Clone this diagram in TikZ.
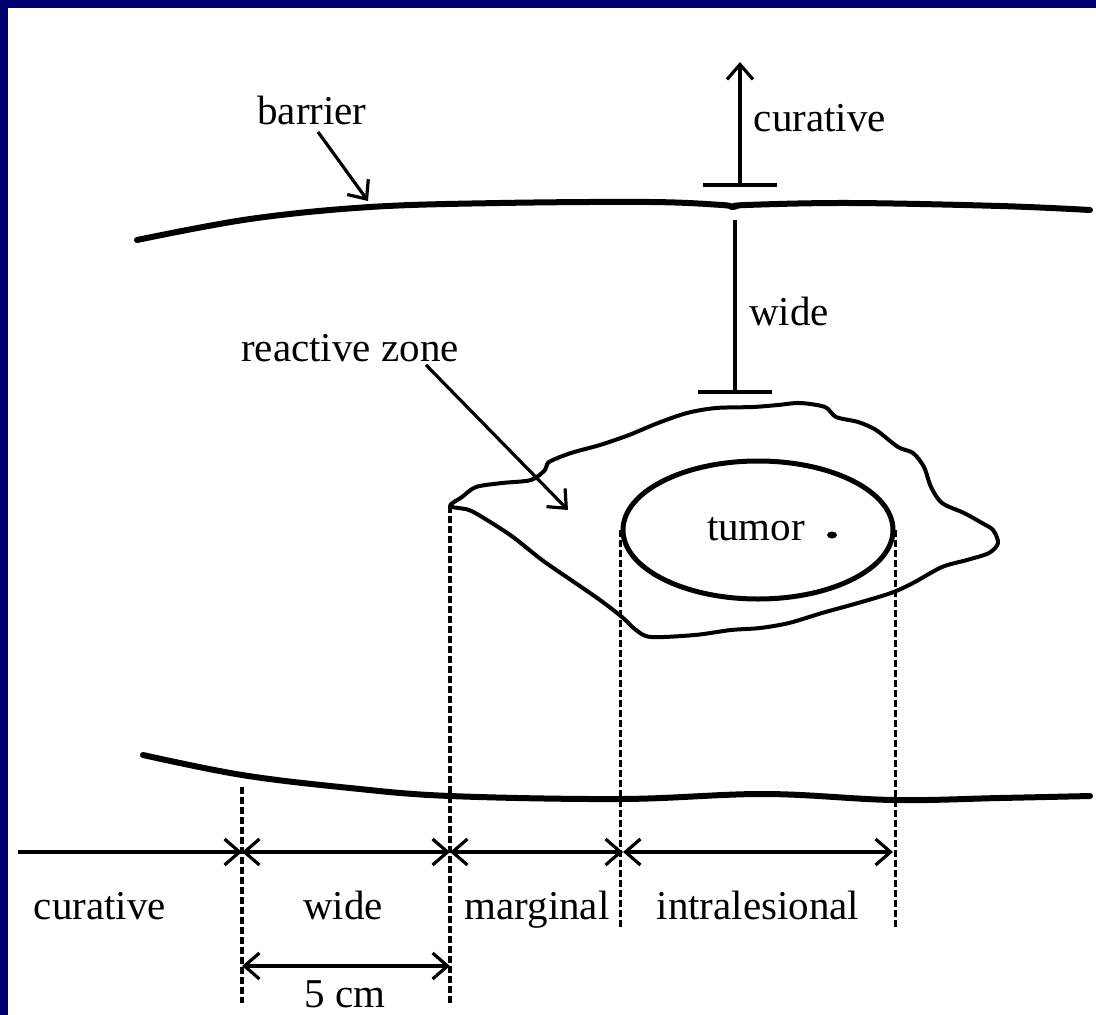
\documentclass[tikz,border=0pt]{standalone}
\usepackage{fontspec}
\setmainfont{Liberation Serif}
\usetikzlibrary{calc}
\usetikzlibrary{shapes,arrows.meta}
\definecolor{slideblue}{RGB}{0,0,112}
\tikzset{
  barrierline/.style={line width=6pt,line cap=round},
  guide/.style={line width=3.2pt,dash pattern=on 7pt off 3pt},
  dimline/.style={line width=3.2pt},
  bar/.style={line width=3.2pt},
  txt/.style={anchor=base},
}

\begin{document}
\begin{tikzpicture}[x=1pt,y=-1pt,>={Straight Barb[length=15pt,width=26pt,line width=3.2pt]},font=\fontsize{41}{48}\selectfont]
    \useasboundingbox (0,0) rectangle (1096,1015);
    \fill[slideblue] (0,0) rectangle (1096,1015);
    \fill[white] (8,8) rectangle (1096,1015);
    % barriers
    \draw[barrierline] plot[smooth,tension=0.6] coordinates {(137,240) (250,219) (370,207) (500,203) (650,202) (722,205) (733,207) (746,205) (850,203) (1000,206) (1090,210)};
    \draw[barrierline] plot[smooth,tension=0.6] coordinates {(143,755) (242,775) (350,788) (450,796) (622,799) (765,794) (893,800) (1000,798) (1090,796)};
    % reactive zone
    \draw[line width=4pt,line join=round] plot[smooth cycle,tension=0.5] coordinates {(450,506) (462,497) (476,487) (502,483) (531,480) (545,470) (549,462) (571,453) (600,445) (629,435) (658,423) (687,413) (716,408) (753,407) (778,405) (800,403) (825,407) (836,417) (858,422) (876,430) (898,447) (913,453) (924,467) (931,487) (942,503) (964,513) (982,523) (993,530) (998,543) (989,553) (967,560) (942,567) (913,583) (891,593) (858,603) (822,613) (789,623) (760,628) (731,630) (695,635) (651,637) (636,630) (622,617) (600,600) (571,580) (542,560) (513,537) (487,520) (469,510)};
    \node[draw,ellipse,line width=5pt,minimum width=270pt,minimum height=138pt,inner sep=0pt] (tumor) at (758,530) {};
    \node[txt] (tumorlbl) at (756,540) {tumor};
    \fill (832,535) ellipse [x radius=5,y radius=3.5];

    \coordinate (CurBase) at (740,185);
    \coordinate (CurTip) at (740,62);
    \coordinate (WideTop) at (735,220);
    \coordinate (WideBot) at (735,392);
    \coordinate (BarrierHit) at (368,201);
    \coordinate (ZoneHit) at (568,510);
    \draw[bar,->] (CurBase)--(CurTip);
    \draw[bar] ($(CurBase)+(-37,0)$)--($(CurBase)+(37,0)$);
    \draw[bar] (WideTop)--(WideBot);
    \draw[bar] ($(WideBot)+(-37,0)$)--($(WideBot)+(37,0)$);
    \node[txt] (curtop) at (820,131) {curative};
    \node[txt] (widetop) at (789,325) {wide};
    \node[txt] (barrier) at (312,124) {barrier};
    \node[txt] (reactive) at (350,361) {reactive zone};
    \draw[bar,->] ($(barrier.south)+(6,4)$)--(BarrierHit);
    \draw[bar,->] ($(reactive.south)+(76,0)$)--(ZoneHit);

    % margins
    \coordinate (Lcur) at (18,852);
    \coordinate (Dwide) at (242,852);
    \coordinate (Dmarg) at (450,852);
    \coordinate (Dintra) at (623,852);
    \coordinate (Dend) at (893,852);
    \coordinate (IntraBot) at (0,928);
    \draw[guide] (242,787)--(242,1003);
    \draw[guide] (450,506)--(450,1003);
    \draw[guide] (tumor.west)--(tumor.west |- IntraBot);
    \draw[guide] (tumor.east)--(tumor.east |- IntraBot);
    \draw[dimline,->] (Lcur)--(Dwide);
    \draw[dimline,<->] (Dwide)--(Dmarg);
    \draw[dimline,<->] (Dmarg)--(Dintra);
    \draw[dimline,<->] (Dintra)--(Dend);
    \node[txt] (curbot) at (100,919) {curative};
    \node[txt] (widebot) at (343,919) {wide};
    \node[txt] (marg) at (537,919) {marginal};
    \node[txt] (intra) at (758,919) {intralesional};
    \coordinate (FiveL) at (242,966);
    \coordinate (FiveR) at (450,966);
    \draw[dimline,<->] (FiveL)--(FiveR);
    \node[txt] (five) at (345,1007) {5 cm};
  \end{tikzpicture}
\end{document}
